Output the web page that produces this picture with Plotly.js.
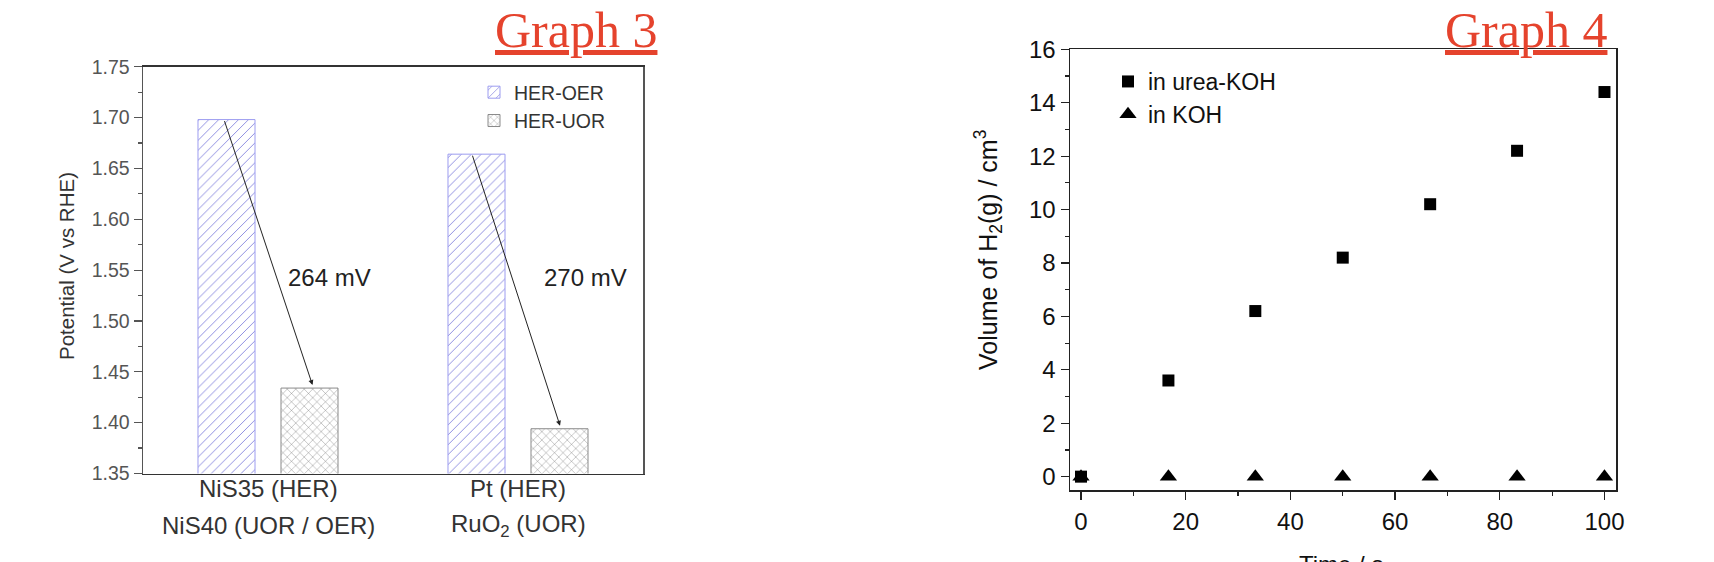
<!DOCTYPE html>
<html>
<head>
<meta charset="utf-8">
<script src="https://cdn.plot.ly/plotly-3.0.1.min.js"></script>
<style>html,body{margin:0;padding:0;background:#fff;}#chart{width:1714px;height:562px;}</style>
</head>
<body>
<div id="chart"></div>
<script>
// ---------- Graph 3 data ----------
const g3Categories = ['NiS', 'Pt'];
const g3TickLine1 = ['NiS35 (HER)', 'Pt (HER)'];
const g3TickLine2 = ['NiS40 (UOR / OER)', 'RuO<sub>2</sub> (UOR)'];
const g3SeriesNames = ['HER-OER', 'HER-UOR'];
const herOer = [1.698, 1.664];
const herUor = [1.434, 1.394];
const g3DiffLabels = ['264 mV', '270 mV'];
const g3YTicks = [1.35, 1.40, 1.45, 1.50, 1.55, 1.60, 1.65, 1.70, 1.75];

// ---------- Graph 4 data ----------
const timeS = [0, 16.7, 33.3, 50, 66.7, 83.3, 100];
const volUreaKOH = [0, 3.6, 6.2, 8.2, 10.2, 12.2, 14.4];
const volKOH = [0, 0, 0, 0, 0, 0, 0];
const g4SeriesNames = ['in urea-KOH', 'in KOH'];
const g4XTicks = [0, 20, 40, 60, 80, 100];
const g4YTicks = [0, 2, 4, 6, 8, 10, 12, 14, 16];

const W = 1714, H = 562;
const px = v => v / W;
const py = v => 1 - v / H;
const SANS = '"Liberation Sans", Arial, sans-serif';
const SERIF = '"Liberation Serif", "Times New Roman", serif';

const traces = [
  {
    type: 'bar', x: g3Categories, y: herOer, name: g3SeriesNames[0],
    xaxis: 'x', yaxis: 'y', legend: 'legend', legendgroup: 'a',
    marker: {color: '#ffffff', line: {color: '#9c9cf0', width: 1},
      pattern: {shape: '/', fgcolor: '#7c7cdc', bgcolor: '#ffffff', size: 7, solidity: 0.12}},
    hoverinfo: 'skip'
  },
  {
    type: 'bar', x: g3Categories, y: herUor, name: g3SeriesNames[1],
    xaxis: 'x', yaxis: 'y', legend: 'legend', legendgroup: 'b',
    marker: {color: '#ffffff', line: {color: '#8a8a8a', width: 1},
      pattern: {shape: 'x', fgcolor: '#666666', bgcolor: '#ffffff', size: 6, solidity: 0.12}},
    hoverinfo: 'skip'
  },
  {
    type: 'scatter', mode: 'markers', x: timeS, y: volUreaKOH, name: g4SeriesNames[0],
    xaxis: 'x2', yaxis: 'y2', legend: 'legend2', legendgroup: 'c',
    marker: {symbol: 'square', size: 12, color: '#000000'}, cliponaxis: false
  },
  {
    type: 'scatter', mode: 'markers', x: timeS, y: volKOH, name: g4SeriesNames[1],
    xaxis: 'x2', yaxis: 'y2', legend: 'legend2', legendgroup: 'd',
    marker: {symbol: 'triangle-up', size: 15, color: '#000000'}, cliponaxis: false
  }
];

// arrow annotations built from the bar values
const arrowTailX = [-0.176, 0.816];
const arrowHeadX = [0.178, 1.168];
const diffLabelX = [0.244, 1.268];
const annotations = [];
for (let i = 0; i < g3Categories.length; i++) {
  annotations.push({
    xref: 'x', yref: 'y', axref: 'x', ayref: 'y',
    x: arrowHeadX[i], y: herUor[i] + 0.003, ax: arrowTailX[i], ay: herOer[i],
    showarrow: true, arrowhead: 2, arrowsize: 1, arrowwidth: 1, arrowcolor: '#222', standoff: 0, text: ''
  });
  annotations.push({
    xref: 'x', yref: 'y', x: diffLabelX[i], y: 1.543, text: g3DiffLabels[i], showarrow: false,
    font: {family: SANS, size: 24, color: '#222'}
  });
  annotations.push({
    xref: 'x', yref: 'paper', x: i, y: py(488), xanchor: 'center', yanchor: 'middle',
    text: g3TickLine1[i], showarrow: false,
    font: {family: SANS, size: 24, color: '#333'}
  });
  annotations.push({
    xref: 'x', yref: 'paper', x: i, y: py(525), xanchor: 'center', yanchor: 'middle',
    text: g3TickLine2[i], showarrow: false,
    font: {family: SANS, size: 24, color: '#333'}
  });
}
annotations.push(
  {xref: 'paper', yref: 'paper', x: px(659), y: py(0), xanchor: 'right', yanchor: 'top',
   text: '<u>Graph 3</u>', showarrow: false, font: {family: SERIF, size: 50, color: '#e5432d'}},
  {xref: 'paper', yref: 'paper', x: px(1609), y: py(0), xanchor: 'right', yanchor: 'top',
   text: '<u>Graph 4</u>', showarrow: false, font: {family: SERIF, size: 50, color: '#e5432d'}},
  {xref: 'paper', yref: 'paper', x: px(67), y: py(266), xanchor: 'center', yanchor: 'middle', textangle: -90,
   text: 'Potential (V vs RHE)', showarrow: false, font: {family: SANS, size: 20.5, color: '#333'}},
  {xref: 'paper', yref: 'paper', x: px(988), y: py(250), xanchor: 'center', yanchor: 'middle', textangle: -90,
   text: 'Volume of H<sub>2</sub>(g) / cm<sup>3</sup>', showarrow: false, font: {family: SANS, size: 25, color: '#111'}},
  {xref: 'paper', yref: 'paper', x: px(1341), y: py(549), xanchor: 'center', yanchor: 'top',
   text: 'Time / s', showarrow: false, font: {family: SANS, size: 24, color: '#111'}}
);

const layout = {
  width: W, height: H,
  margin: {l: 0, r: 0, t: 0, b: 0},
  paper_bgcolor: '#ffffff', plot_bgcolor: '#ffffff',
  barmode: 'group', bargap: 0.336, bargroupgap: 0.313,
  font: {family: SANS},
  xaxis: {
    domain: [px(143), px(643)], anchor: 'y', type: 'category',
    range: [-0.5, 1.5], tickvals: g3Categories, showticklabels: false,
    ticks: '', showgrid: false, zeroline: false,
    showline: true, linecolor: '#333', linewidth: 1.5, mirror: true
  },
  yaxis: {
    domain: [py(473.5), py(66.7)], anchor: 'x',
    range: [1.35, 1.75], tickvals: g3YTicks, tickformat: '.2f',
    ticks: 'outside', ticklen: 8, tickwidth: 1.2, tickcolor: '#555',
    minor: {dtick: 0.025, tick0: 1.35, ticks: 'outside', ticklen: 4, tickcolor: '#555', showgrid: false},
    showgrid: false, zeroline: false,
    showline: true, linecolor: '#555', linewidth: 1.5, mirror: true,
    tickfont: {family: SANS, size: 19.5, color: '#555'}
  },
  xaxis2: {
    domain: [px(1070), px(1616)], anchor: 'y2',
    range: [-2.1, 102.2], tickvals: g4XTicks,
    ticks: 'outside', ticklen: 8, tickwidth: 1.2, tickcolor: '#222',
    minor: {dtick: 10, tick0: 0, ticks: 'outside', ticklen: 4, tickcolor: '#222', showgrid: false},
    showgrid: false, zeroline: false,
    showline: true, linecolor: '#222', linewidth: 1.5, mirror: true,
    tickfont: {family: SANS, size: 24, color: '#111'}, ticklabelstandoff: 2
  },
  yaxis2: {
    domain: [py(490), py(49.3)], anchor: 'x2',
    range: [-0.5, 16], tickvals: g4YTicks,
    ticks: 'outside', ticklen: 8, tickwidth: 1.2, tickcolor: '#222',
    minor: {dtick: 1, tick0: 0, ticks: 'outside', ticklen: 4, tickcolor: '#222', showgrid: false},
    showgrid: false, zeroline: false,
    showline: true, linecolor: '#222', linewidth: 1.5, mirror: true,
    tickfont: {family: SANS, size: 24, color: '#111'}
  },
  legend: {
    x: px(474), y: py(73), xanchor: 'left', yanchor: 'top',
    bgcolor: 'rgba(0,0,0,0)', borderwidth: 0, tracegroupgap: 0, traceorder: 'grouped',
    font: {family: SANS, size: 19.5, color: '#333'}
  },
  legend2: {
    x: px(1108), y: py(60), xanchor: 'left', yanchor: 'top',
    bgcolor: 'rgba(0,0,0,0)', borderwidth: 0, tracegroupgap: 0, traceorder: 'grouped',
    font: {family: SANS, size: 23, color: '#111'}
  },
  annotations: annotations,
  showlegend: true
};

Plotly.newPlot('chart', traces, layout, {displayModeBar: false, staticPlot: true});
</script>
</body>
</html>
